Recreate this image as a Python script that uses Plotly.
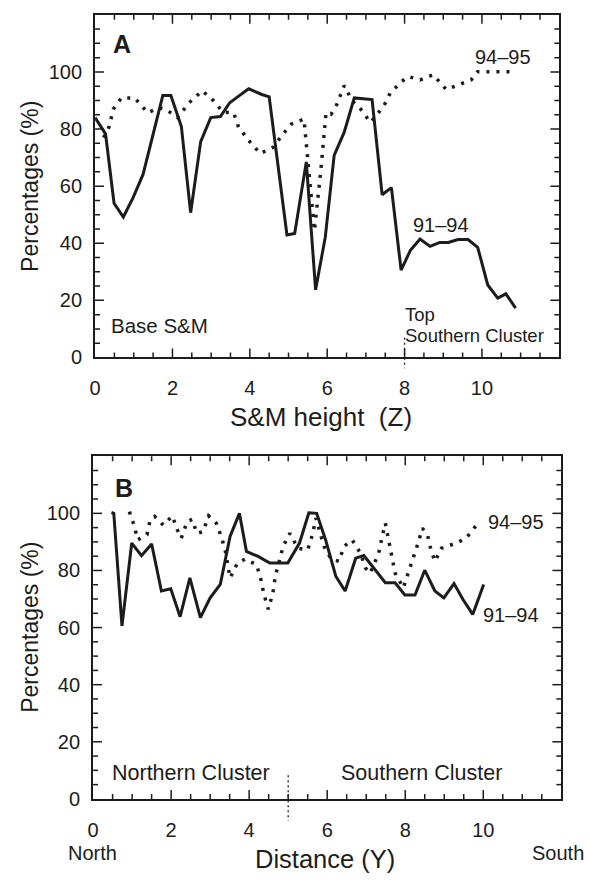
import plotly.graph_objects as go

# ---------------- data ----------------
# Panel A: S&M height (Z)
a_x_9194 = [0.0, 0.27, 0.49, 0.73, 0.98, 1.24, 1.75, 1.96, 2.23, 2.47, 2.73, 2.99, 3.24, 3.48, 3.72,
            3.97, 4.31, 4.50, 4.96, 5.16, 5.46, 5.70, 5.95, 6.18, 6.44, 6.70, 7.16, 7.42, 7.66, 7.91,
            8.15, 8.40, 8.66, 8.91, 9.13, 9.38, 9.64, 9.89, 10.15, 10.41, 10.62, 10.87]
a_y_9194 = [84, 78.3, 54, 49.2, 55.9, 64.1, 91.7, 91.7, 80.9, 50.7, 75.6, 84, 84.4, 89.2, 91.6,
            94.1, 92.1, 91.3, 42.9, 43.4, 68.5, 23.7, 42.1, 70.8, 78.9, 90.9, 90.3, 57, 59.5, 30.6,
            37.5, 41.5, 38.9, 40.3, 40.3, 41.3, 41.3, 38.6, 25.4, 20.8, 22.3, 17.3]

a_x_9495 = [0.22, 0.37, 0.47, 0.68, 1.02, 1.36, 1.66, 1.87, 2.13, 2.43, 2.77, 3.07, 3.30, 3.58, 3.71,
            4.01, 4.27, 4.61, 4.86, 5.07, 5.40, 5.67, 5.84, 5.97, 6.10, 6.23, 6.44, 6.65, 6.87, 7.12,
            7.46, 7.63, 7.93, 8.10, 8.40, 8.74, 9.08, 9.34, 9.72, 9.89, 10.87]
a_y_9495 = [77, 81, 86.9, 90.9, 90.9, 85.7, 87.5, 86.5, 84, 89.2, 93.4, 89.8, 86, 85.7, 80.6,
            75.4, 71.4, 73.7, 78.3, 81.7, 83.5, 44.4, 66.2, 85.7, 85.2, 88, 95.2, 89.8, 86.9, 82.3,
            88, 92.6, 96.7, 98.4, 97.2, 99, 93.8, 95.2, 97.2, 100.1, 100.1]

# Panel B: Distance (Y)
b_x_9194 = [0.47, 0.53, 0.74, 0.99, 1.24, 1.50, 1.75, 1.99, 2.23, 2.48, 2.75, 3.0, 3.26, 3.51, 3.75, 3.93,
            4.23, 4.53, 4.99, 5.29, 5.53, 5.73, 5.96, 6.22, 6.46, 6.73, 6.94, 7.23, 7.49, 7.74, 7.99,
            8.25, 8.50, 8.76, 8.99, 9.25, 9.48, 9.73, 10.01]
b_y_9194 = [100.3, 100, 60.6, 89.6, 85.2, 89.3, 72.8, 73.6, 63.8, 77.4, 63.5, 70.4, 75.1, 91.9, 100, 86.7,
            84.9, 82.6, 82.6, 89.6, 100.2, 100, 90.7, 78, 72.8, 84.3, 85.2, 80.3, 75.7, 75.7, 71.4,
            71.4, 80.1, 72.8, 70.4, 75.4, 69.8, 64.6, 75.1]

b_x_9495 = [0.93, 1.06, 1.14, 1.38, 1.46, 1.58, 1.80, 2.03, 2.16, 2.26, 2.41, 2.54, 2.66, 2.82, 2.96,
            3.16, 3.30, 3.39, 3.51, 3.70, 3.90, 4.19, 4.30, 4.38, 4.49, 4.61, 4.67, 4.87, 5.04, 5.25,
            5.50, 5.63, 5.71, 5.92, 6.10, 6.30, 6.43, 6.64, 6.85, 6.98, 7.10, 7.32, 7.40, 7.49, 7.59,
            7.66, 7.74, 7.95, 8.08, 8.21, 8.33, 8.44, 8.57, 8.66, 8.76, 8.93, 9.31, 9.56, 9.81]
b_y_9495 = [100.6, 95.4, 90.7, 92.5, 97.5, 98.9, 95.9, 99.1, 94.2, 91.3, 97.1, 97.9, 93, 93.6, 99.1,
            96.5, 91.3, 86.7, 77.4, 82.6, 84, 82, 76.8, 71.6, 66.4, 72.2, 78, 88.4, 93, 87.8,
            87.2, 93, 98.3, 88.4, 84, 83.2, 88.4, 90.7, 86.1, 80.9, 79, 86.1, 91.3, 96.5, 89.6,
            84.3, 79.1, 73.9, 79.1, 84, 89.6, 94.8, 92.5, 87.2, 83.2, 87.8, 89.6, 91.3, 95.6]

# axis scales and tick labels
x_range = [0, 12]
x_tickvals = [0, 2, 4, 6, 8, 10]
x_ticktext = ["0", "2", "4", "6", "8", "10"]
x_major_step, x_minor_step = 2, 0.5
y_range = [0, 120]
y_tickvals = [0, 20, 40, 60, 80, 100]
y_ticktext = ["0", "20", "40", "60", "80", "100"]
y_major_step, y_minor_step = 20, 5

# ---------------- figure ----------------
W, H = 590, 882
FONT = "Liberation Sans, Arial, Helvetica, sans-serif"
INK = "#1c1c1c"


def px(x):
    return x / W


def py(y):
    return 1 - y / H


fig = go.Figure()

solid = dict(color=INK, width=3)
dotted = dict(color=INK, width=3.5, dash="3px,7px")

fig.add_trace(go.Scatter(x=a_x_9194, y=a_y_9194, mode="lines", line=solid, xaxis="x", yaxis="y"))
fig.add_trace(go.Scatter(x=a_x_9495, y=a_y_9495, mode="lines", line=dotted, xaxis="x", yaxis="y"))
fig.add_trace(go.Scatter(x=b_x_9194, y=b_y_9194, mode="lines", line=solid, xaxis="x2", yaxis="y2"))
fig.add_trace(go.Scatter(x=b_x_9495, y=b_y_9495, mode="lines", line=dotted, xaxis="x2", yaxis="y2"))


def xax(domain, anchor):
    return dict(domain=domain, anchor=anchor, range=x_range, tickmode="array",
                tickvals=x_tickvals, ticktext=x_ticktext, ticks="",
                showline=True, linewidth=2, linecolor=INK, mirror=True,
                showgrid=False, zeroline=False, ticklabelstandoff=12,
                tickfont=dict(family=FONT, size=20, color=INK))


def yax(domain, anchor):
    return dict(domain=domain, anchor=anchor, range=y_range, tickmode="array",
                tickvals=y_tickvals, ticktext=y_ticktext, ticks="",
                showline=True, linewidth=2, linecolor=INK, mirror=True,
                showgrid=False, zeroline=False, ticklabelstandoff=7,
                tickfont=dict(family=FONT, size=20, color=INK))


A_dom_x, A_dom_y = [px(90), px(559)], [py(362), py(15)]
B_dom_x, B_dom_y = [px(88), px(561)], [py(809), py(462)]

fig.update_layout(
    width=W, height=H, margin=dict(l=0, r=0, t=0, b=0),
    paper_bgcolor="white", plot_bgcolor="white", showlegend=False,
    font=dict(family=FONT, color=INK),
    xaxis=xax(A_dom_x, "y"),
    yaxis=yax(A_dom_y, "x"),
    xaxis2=xax(B_dom_x, "y2"),
    yaxis2=yax(B_dom_y, "x2"),
)


# inside tick marks on all four sides (major longer than minor)
def add_ticks(xref, yref, dom_x, dom_y):
    wpx = (dom_x[1] - dom_x[0]) * W
    hpx = (dom_y[1] - dom_y[0]) * H
    tick = dict(color=INK, width=1.5)
    n = int(round((x_range[1] - x_range[0]) / x_minor_step))
    for i in range(1, n):
        v = x_range[0] + i * x_minor_step
        ln = 9 if abs(v / x_major_step - round(v / x_major_step)) < 1e-9 else 5
        f = ln / hpx
        fig.add_shape(type="line", xref=xref, yref=yref + " domain", x0=v, x1=v, y0=0, y1=f, line=tick)
        fig.add_shape(type="line", xref=xref, yref=yref + " domain", x0=v, x1=v, y0=1 - f, y1=1, line=tick)
    n = int(round((y_range[1] - y_range[0]) / y_minor_step))
    for i in range(1, n):
        v = y_range[0] + i * y_minor_step
        ln = 9 if abs(v / y_major_step - round(v / y_major_step)) < 1e-9 else 5
        f = ln / wpx
        fig.add_shape(type="line", xref=xref + " domain", yref=yref, x0=0, x1=f, y0=v, y1=v, line=tick)
        fig.add_shape(type="line", xref=xref + " domain", yref=yref, x0=1 - f, x1=1, y0=v, y1=v, line=tick)


add_ticks("x", "y", A_dom_x, A_dom_y)
add_ticks("x2", "y2", B_dom_x, B_dom_y)

# dotted markers at cluster boundaries
fig.add_shape(type="line", xref="x", yref="paper", x0=8, x1=8, y0=py(342), y1=py(373),
              line=dict(color=INK, width=1.3, dash="2px,3px"))
fig.add_shape(type="line", xref="x2", yref="paper", x0=5, x1=5, y0=py(785), y1=py(831),
              line=dict(color=INK, width=1.3, dash="2px,3px"))


def ann(text, x, y, size, xanchor="center", yanchor="middle", bold=False, angle=0):
    if bold:
        text = "<b>" + text + "</b>"
    fig.add_annotation(text=text, x=px(x), y=py(y), xref="paper", yref="paper",
                       xanchor=xanchor, yanchor=yanchor, showarrow=False, textangle=angle,
                       font=dict(family=FONT, size=size, color=INK))


# Panel A texts
ann("A", 117, 45, 25, bold=True)
ann("94–95", 502.5, 58, 20)
ann("91–94", 439, 227.5, 20)
ann("Base S&M", 104, 330, 20.5, xanchor="left")
ann("Top", 401, 318, 18.5, xanchor="left")
ann("Southern Cluster", 401, 340, 18.5, xanchor="left")
ann("S&M height  (Z)", 318, 422, 26)
ann("Percentages (%)", 24, 188.5, 23, angle=-90)

# Panel B texts
ann("B", 119, 494, 25, bold=True)
ann("94–95", 515, 529, 20)
ann("91–94", 510, 623, 20)
ann("Northern Cluster", 105, 783, 21.5, xanchor="left")
ann("Southern Cluster", 336, 783, 21.5, xanchor="left")
ann("North", 87, 864, 20)
ann("South", 558, 864, 20)
ann("Distance (Y)", 322, 870, 25.5)
ann("Percentages (%)", 24, 635, 23, angle=-90)

fig.write_html("out.html")
